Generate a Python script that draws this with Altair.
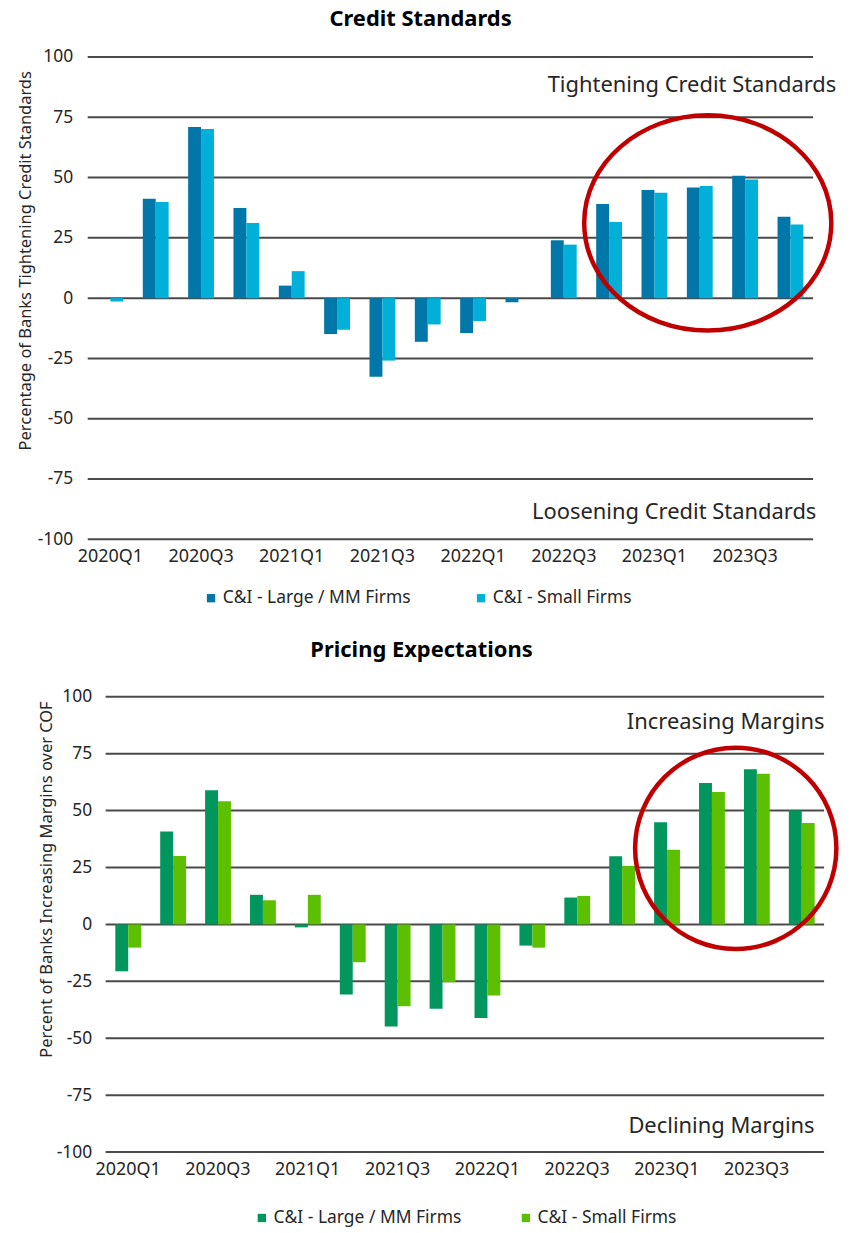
import altair as alt
import pandas as pd

# ---------------- data ----------------
quarters = ["2020Q1", "2020Q2", "2020Q3", "2020Q4",
            "2021Q1", "2021Q2", "2021Q3", "2021Q4",
            "2022Q1", "2022Q2", "2022Q3", "2022Q4",
            "2023Q1", "2023Q2", "2023Q3", "2023Q4"]
x_labels = ["2020Q1", "2020Q3", "2021Q1", "2021Q3", "2022Q1", "2022Q3", "2023Q1", "2023Q3"]
series = ["C&I - Large / MM Firms", "C&I - Small Firms"]
y_ticks = [-100, -75, -50, -25, 0, 25, 50, 75, 100]

credit_large = [0, 41.2, 71.0, 37.4, 5.2, -14.9, -32.6, -18.1,
                -14.5, -1.7, 24.0, 39.0, 44.8, 45.9, 50.8, 33.8]
credit_small = [-1.4, 39.9, 70.1, 31.2, 11.2, -13.1, -25.9, -10.9,
                -9.5, 0, 22.2, 31.6, 43.7, 46.5, 49.2, 30.5]
pricing_large = [-20.6, 40.8, 58.9, 13.0, -1.3, -30.8, -44.8, -37.0,
                 -41.1, -9.3, 11.8, 29.9, 44.9, 62.1, 68.2, 50.1]
pricing_small = [-10.2, 30.0, 54.1, 10.6, 13.0, -16.6, -36.0, -25.4,
                 -31.2, -10.2, 12.5, 25.7, 32.8, 58.2, 66.2, 44.5]

credit_notes = ["Tightening Credit Standards", "Loosening Credit Standards"]
credit_note_values = [85.5, -91.7]
pricing_notes = ["Increasing Margins", "Declining Margins"]
pricing_note_values = [86, -91.5]

credit_ytitle = "Percentage of Banks Tightening Credit Standards"
pricing_ytitle = "Percent of Banks Increasing Margins over COF"

FONT = "Noto Sans"
TXT = "#262626"
GRID = "#4a4a4a"
ELLIPSE = "M -1 0 A 1 {r} 0 1 1 1 0 A 1 {r} 0 1 1 -1 0 Z"


def panel(large, small, colors, title, title_dx, title_offset, ytitle, title_y,
          label_pad, title_pad, x_start, plot_w, height, notes, note_vals, note_dx,
          circ_q, circ_val, circ_dx, circ_size, circ_ratio, leg_x, leg_y, col_pad):
    width = x_start + plot_w
    df = pd.DataFrame({
        "quarter": quarters * 2,
        "series": [series[0]] * len(quarters) + [series[1]] * len(quarters),
        "value": large + small,
    })
    x = alt.X("quarter:N", sort=quarters,
              scale=alt.Scale(range=[x_start, width], paddingInner=0.43, paddingOuter=0.215),
              axis=alt.Axis(values=x_labels, labelAngle=0, ticks=False, domain=False,
                            grid=False, labelPadding=8, title=None, labelFontSize=18,
                            labelColor=TXT, labelFont=FONT))
    y = alt.Y("value:Q", scale=alt.Scale(domain=[-100, 100], nice=False, zero=False),
              axis=alt.Axis(values=y_ticks, grid=False, offset=-x_start,
                            ticks=False, domain=False, labelPadding=label_pad,
                            labelExpr="'' + datum.value",
                            labelFontSize=17.5, labelColor=TXT, labelFont=FONT,
                            title=ytitle, titleFontSize=16.5, titleFontWeight="normal",
                            titleColor=TXT, titleFont=FONT, titlePadding=title_pad,
                            titleY=title_y))
    grid = alt.Chart(pd.DataFrame({"value": y_ticks})).mark_rule(
        color=GRID, strokeWidth=2).encode(y=y, x=alt.value(x_start), x2=alt.value(width))
    bars = alt.Chart(df).mark_bar().encode(
        x=x,
        xOffset=alt.XOffset("series:N", sort=series,
                            scale=alt.Scale(paddingInner=0, paddingOuter=0)),
        y=y,
        color=alt.Color("series:N", sort=series,
                        scale=alt.Scale(domain=series, range=colors),
                        legend=alt.Legend(orient="none", legendX=leg_x, legendY=leg_y,
                                          direction="horizontal", title=None,
                                          symbolType="square", symbolSize=70,
                                          symbolStrokeWidth=0, labelFontSize=17.5,
                                          labelFont=FONT, labelColor=TXT, labelLimit=400,
                                          labelOffset=3, columnPadding=col_pad)),
    )
    layers = [grid, bars]
    for txt, val, dx in zip(notes, note_vals, note_dx):
        ndf = pd.DataFrame({"quarter": [quarters[-1]], "value": [val], "label": [txt]})
        layers.append(
            alt.Chart(ndf).mark_text(align="right", baseline="alphabetic", dx=dx,
                                     fontSize=22, font=FONT, color=TXT).encode(
                x=x, y=y, text="label:N")
        )
    cdf = pd.DataFrame({"quarter": [circ_q], "value": [circ_val]})
    layers.append(
        alt.Chart(cdf).mark_point(shape=ELLIPSE.format(r=circ_ratio), filled=False,
                                  stroke="#C00000", strokeWidth=4.5, opacity=1,
                                  size=circ_size, xOffset=circ_dx).encode(x=x, y=y)
    )
    return alt.layer(*layers).properties(
        width=width, height=height,
        title=alt.TitleParams(title, fontSize=22, fontWeight="bold", font=FONT,
                              color="#000000", anchor="middle", dx=title_dx,
                              offset=title_offset),
    )


top = panel(credit_large, credit_small, ["#0077A8", "#00B0D8"],
            "Credit Standards", -30, 17, credit_ytitle, 204, 15, 4,
            0, 728, 484, credit_notes, credit_note_values, [46, 26],
            "2023Q2", 31.2, 8, 248 ** 2, 0.871, 115, 534, 61)

bottom = panel(pricing_large, pricing_small, ["#00965E", "#5CBF00"],
               "Pricing Expectations", -34.5, 26, pricing_ytitle, 183, 14, 2,
               18, 721, 457, pricing_notes, pricing_note_values, [23, 13],
               "2023Q2", 33.4, 24, 202 ** 2, 1.0, 166, 514, 55)

chart = alt.vconcat(top, bottom, spacing=30).resolve_scale(
    color="independent", x="independent", y="independent"
).properties(
    padding={"left": 8, "top": -3, "right": 0, "bottom": 0}
).configure(font=FONT).configure_view(stroke="transparent")

chart.save("out.html", embed_options={"renderer": "svg", "actions": False})
